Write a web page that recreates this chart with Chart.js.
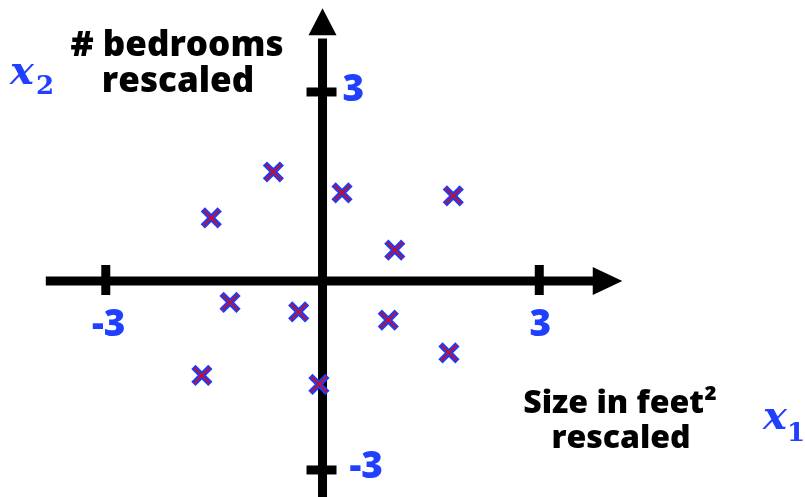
<!DOCTYPE html>
<html lang="en">
<head>
  <meta charset="UTF-8" />
  <title>Feature scaling scatter</title>
  <script src="https://cdn.jsdelivr.net/npm/chart.js"></script>
  <style>
    body {
      margin: 0;
      background: #ffffff;
    }
    .wrap {
      width: 805px;
      height: 497px;
    }
  </style>
</head>
<body>
  <div class="wrap">
    <canvas id="scaledChart"></canvas>
  </div>

  <script>
    // rescaled features: x1 = size in feet^2, x2 = # bedrooms
    const sizeScaled = [-0.68, -1.54, 0.27, 1.81, 1.00, -1.28, -0.33, 0.91, 1.75, -1.67, -0.05];
    const bedroomsScaled = [1.73, 1.00, 1.40, 1.35, 0.49, -0.34, -0.49, -0.62, -1.14, -1.50, -1.64];

    const tickValues = [-3, 3];
    const tickLabels = ["-3", "3"];

    const BLUE = "#1f40ff";
    const points = sizeScaled.map((v, i) => ({ x: v, y: bedroomsScaled[i] }));

    // thick black axes with arrows, tick marks and labels
    const axesPlugin = {
      id: "axes",
      beforeDatasetsDraw(chart) {
        const { ctx, scales: { x, y } } = chart;
        const x0 = x.getPixelForValue(0);
        const y0 = y.getPixelForValue(0);
        ctx.save();
        ctx.fillStyle = "#000";
        ctx.strokeStyle = "#000";
        ctx.lineWidth = 9;

        // horizontal axis
        ctx.beginPath();
        ctx.moveTo(x.getPixelForValue(-3.83), y0);
        ctx.lineTo(x.getPixelForValue(3.8), y0);
        ctx.stroke();
        const xTip = x.getPixelForValue(4.15);
        const xBase = x.getPixelForValue(3.74);
        ctx.beginPath();
        ctx.moveTo(xTip, y0);
        ctx.lineTo(xBase, y0 - 14);
        ctx.lineTo(xBase, y0 + 14);
        ctx.closePath();
        ctx.fill();

        // vertical axis
        ctx.beginPath();
        ctx.moveTo(x0, y.getPixelForValue(-3.5));
        ctx.lineTo(x0, y.getPixelForValue(3.85));
        ctx.stroke();
        const yTip = y.getPixelForValue(4.33);
        const yBase = y.getPixelForValue(3.9);
        ctx.beginPath();
        ctx.moveTo(x0, yTip);
        ctx.lineTo(x0 - 14, yBase);
        ctx.lineTo(x0 + 14, yBase);
        ctx.closePath();
        ctx.fill();

        // tick marks
        tickValues.forEach(v => {
          const px = x.getPixelForValue(v);
          ctx.beginPath();
          ctx.moveTo(px, y0 - 16);
          ctx.lineTo(px, y0 + 14);
          ctx.stroke();
          const py = y.getPixelForValue(v);
          ctx.beginPath();
          ctx.moveTo(x0 - 16, py);
          ctx.lineTo(x0 + 14, py);
          ctx.stroke();
        });

        // tick labels
        ctx.fillStyle = BLUE;
        ctx.font = "800 37px 'Open Sans'";
        ctx.textBaseline = "middle";
        tickValues.forEach((v, i) => {
          ctx.textAlign = "center";
          ctx.fillText(tickLabels[i], x.getPixelForValue(v) + (v < 0 ? 3 : 1), y0 + 44);
          ctx.textAlign = "left";
          ctx.fillText(tickLabels[i], x0 + (v < 0 ? 27 : 20), y.getPixelForValue(v) - (v < 0 ? 3 : 2));
        });

        // axis titles
        ctx.fillStyle = "#000";
        ctx.textAlign = "center";
        ctx.font = "800 35px 'Open Sans'";
        ctx.fillText("# bedrooms", 177, 46);
        ctx.fillText("rescaled", 178, 82);
        ctx.font = "800 32px 'Open Sans'";
        ctx.fillText("Size in feet\u00b2", 620, 404);
        ctx.fillText("rescaled", 621, 439);

        // variable names
        ctx.fillStyle = BLUE;
        ctx.textAlign = "left";
        ctx.textBaseline = "alphabetic";
        ctx.font = "italic bold 40px 'DejaVu Serif'";
        ctx.fillText("x", 10, 84);
        ctx.fillText("x", 763, 429);
        ctx.font = "bold 26px 'DejaVu Serif'";
        ctx.fillText("2", 36, 94);
        ctx.fillText("1", 787, 441);
        ctx.restore();
      }
    };

    new Chart(document.getElementById("scaledChart"), {
      type: "scatter",
      data: {
        datasets: [
          {
            // red core drawn over the blue outline
            data: points,
            pointStyle: "crossRot",
            pointRadius: 11,
            pointBorderWidth: 2,
            pointBorderColor: "#c4102a",
            order: 0
          },
          {
            data: points,
            pointStyle: "crossRot",
            pointRadius: 12,
            pointBorderWidth: 6,
            pointBorderColor: "#1a3cff",
            order: 1
          }
        ]
      },
      options: {
        responsive: true,
        maintainAspectRatio: false,
        animation: false,
        layout: { padding: 0, autoPadding: false },
        plugins: {
          legend: { display: false },
          tooltip: { enabled: false }
        },
        scales: {
          x: { display: false, min: -4.464, max: 6.678 },
          y: { display: false, min: -3.429, max: 4.46 }
        }
      },
      plugins: [axesPlugin]
    });
  </script>
</body>
</html>
